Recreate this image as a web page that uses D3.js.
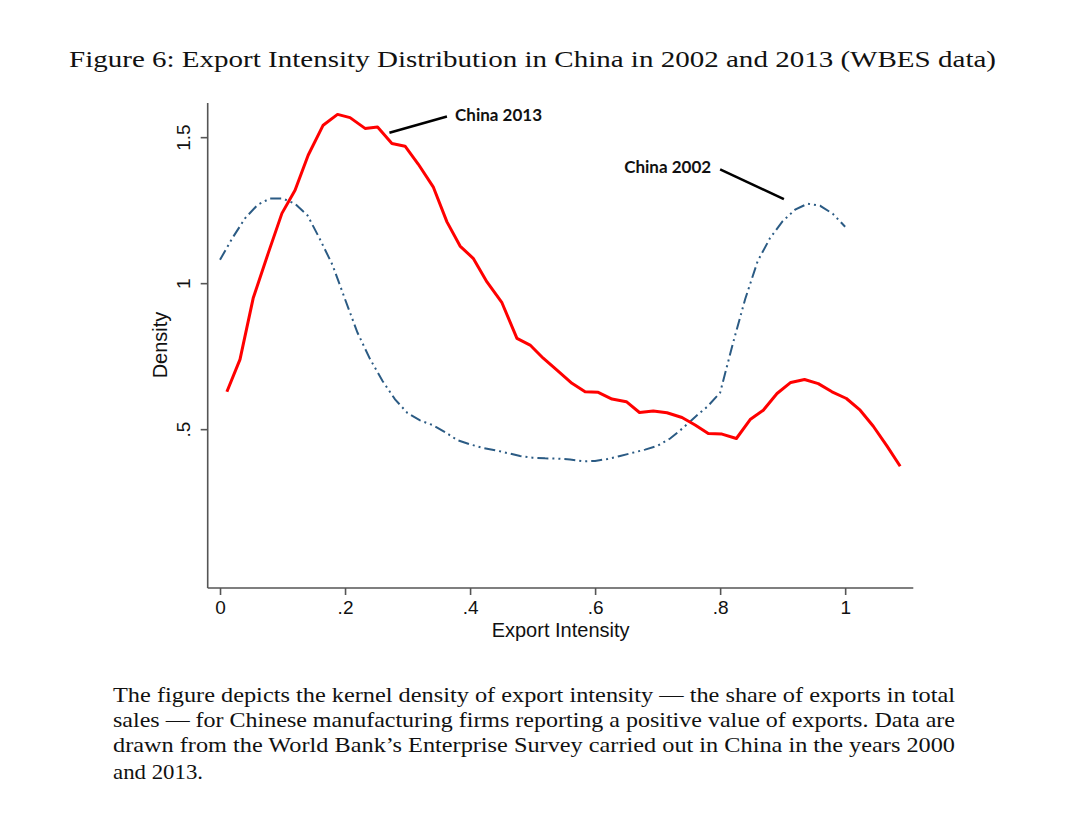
<!DOCTYPE html>
<html>
<head>
<meta charset="utf-8">
<script src="https://cdn.jsdelivr.net/npm/d3@7"></script>
<style>
  html, body { margin: 0; padding: 0; background: #ffffff; }
  svg { display: block; }
</style>
</head>
<body>
<svg id="chart" width="1080" height="819"></svg>
<script>
// ---------------- DATA ----------------
const titleText = "Figure 6: Export Intensity Distribution in China in 2002 and 2013 (WBES data)";
const captionLines = [
  "The figure depicts the kernel density of export intensity \u2014 the share of exports in total",
  "sales \u2014 for Chinese manufacturing firms reporting a positive value of exports. Data are",
  "drawn from the World Bank\u2019s Enterprise Survey carried out in China in the years 2000",
  "and 2013."
];
const xTicks = [0, 0.2, 0.4, 0.6, 0.8, 1];
const yTicks = [0.5, 1, 1.5];
const xLabel = "Export Intensity";
const yLabel = "Density";

// China 2013 (solid red)
const x2013 = [0.011, 0.032, 0.053, 0.077, 0.099, 0.120, 0.141, 0.165, 0.188, 0.208,
               0.232, 0.252, 0.275, 0.296, 0.317, 0.341, 0.363, 0.384, 0.405, 0.427,
               0.451, 0.475, 0.496, 0.517, 0.539, 0.563, 0.584, 0.605, 0.627, 0.650,
               0.671, 0.693, 0.715, 0.739, 0.760, 0.781, 0.803, 0.826, 0.848, 0.869,
               0.891, 0.913, 0.935, 0.957, 0.979, 1.002, 1.024, 1.045, 1.067, 1.088];
const d2013 = [0.628, 0.739, 0.948, 1.102, 1.239, 1.318, 1.438, 1.541, 1.578, 1.567,
               1.530, 1.535, 1.478, 1.469, 1.408, 1.330, 1.210, 1.127, 1.085, 1.004,
               0.933, 0.811, 0.788, 0.743, 0.702, 0.657, 0.628, 0.626, 0.603, 0.594,
               0.557, 0.562, 0.556, 0.540, 0.514, 0.485, 0.483, 0.468, 0.533, 0.565,
               0.622, 0.660, 0.670, 0.656, 0.628, 0.605, 0.565, 0.510, 0.442, 0.373];

// China 2002 (dash-dot navy)
const x2002 = [0.00, 0.02, 0.04, 0.06, 0.08, 0.10, 0.12, 0.14, 0.16, 0.18,
               0.20, 0.22, 0.24, 0.26, 0.28, 0.30, 0.32, 0.34, 0.36, 0.38,
               0.40, 0.42, 0.44, 0.46, 0.48, 0.50, 0.52, 0.54, 0.56, 0.58,
               0.60, 0.62, 0.64, 0.66, 0.68, 0.70, 0.72, 0.74, 0.76, 0.78,
               0.80, 0.82, 0.84, 0.86, 0.88, 0.90, 0.92, 0.94, 0.96, 0.98, 1.00];
const d2002 = [1.080, 1.155, 1.222, 1.268, 1.290, 1.290, 1.272, 1.232, 1.150, 1.062,
               0.945, 0.830, 0.740, 0.665, 0.602, 0.555, 0.530, 0.514, 0.490, 0.462,
               0.448, 0.436, 0.428, 0.418, 0.408, 0.402, 0.400, 0.399, 0.396, 0.390,
               0.391, 0.398, 0.408, 0.419, 0.430, 0.443, 0.468, 0.503, 0.542, 0.578,
               0.625, 0.790, 0.945, 1.075, 1.155, 1.212, 1.252, 1.272, 1.265, 1.238, 1.193];

// ---------------- LAYOUT ----------------
const svg = d3.select("#chart");
const plot = { left: 207.7, right: 913.3, top: 103, bottom: 588 };

const x = d3.scaleLinear().domain([-0.0197, 1.109]).range([plot.left, plot.right]);
const y = d3.scaleLinear().domain([-0.044, 1.617]).range([plot.bottom, plot.top]);

const fmt = d => d === 0 ? "0" : String(+d.toFixed(2)).replace(/^0\./, ".");

// Title
svg.append("text")
  .attr("x", 69).attr("y", 67)
  .attr("font-family", "'Liberation Serif', 'DejaVu Serif', serif")
  .attr("font-size", 24)
  .attr("fill", "#111")
  .attr("textLength", 927)
  .attr("lengthAdjust", "spacingAndGlyphs")
  .text(titleText);

// Axes
const axisColor = "#555";
const xAxis = svg.append("g")
  .attr("transform", `translate(0,${plot.bottom})`)
  .call(d3.axisBottom(x).tickValues(xTicks).tickFormat(fmt).tickSize(7).tickSizeOuter(0).tickPadding(6));
const yAxis = svg.append("g")
  .attr("transform", `translate(${plot.left},0)`)
  .call(d3.axisLeft(y).tickValues(yTicks).tickFormat(fmt).tickSize(7).tickSizeOuter(0).tickPadding(10));

[xAxis, yAxis].forEach(g => {
  g.select(".domain").attr("stroke", axisColor).attr("stroke-width", 1.6);
  g.selectAll(".tick line").attr("stroke", axisColor).attr("stroke-width", 1.6);
  g.selectAll(".tick text")
    .attr("font-family", "'Liberation Sans', Arial, sans-serif")
    .attr("font-size", 19)
    .attr("fill", "#111");
});
xAxis.select(".domain").attr("d", `M${plot.left},0H${plot.right}`);
yAxis.select(".domain").attr("d", `M0,${plot.top}V${plot.bottom}`);

yAxis.selectAll(".tick text")
  .attr("transform", "rotate(-90)")
  .attr("x", 0).attr("y", -17.5)
  .attr("dy", 0)
  .attr("text-anchor", "middle");

// Axis titles
svg.append("text")
  .attr("x", (x(0) + x(1)) / 2 + 28).attr("y", 637)
  .attr("text-anchor", "middle")
  .attr("font-family", "'Liberation Sans', Arial, sans-serif")
  .attr("font-size", 20)
  .attr("fill", "#111")
  .text(xLabel);

svg.append("text")
  .attr("transform", `translate(167,${345}) rotate(-90)`)
  .attr("text-anchor", "middle")
  .attr("font-family", "'Liberation Sans', Arial, sans-serif")
  .attr("font-size", 20)
  .attr("fill", "#111")
  .text(yLabel);

// Lines
const line = d3.line().x(d => x(d[0])).y(d => y(d[1]));

svg.append("path")
  .datum(x2002.map((v, i) => [v, d2002[i]]))
  .attr("d", line)
  .attr("fill", "none")
  .attr("stroke", "#2b5b84")
  .attr("stroke-width", 2)
  .attr("stroke-dasharray", "11,4,2,4,2,4");

svg.append("path")
  .datum(x2013.map((v, i) => [v, d2013[i]]))
  .attr("d", line)
  .attr("fill", "none")
  .attr("stroke", "#ff0000")
  .attr("stroke-width", 3)
  .attr("stroke-linejoin", "round");

// Annotations
const annFont = "Lato, 'Open Sans', sans-serif";
svg.append("line")
  .attr("x1", x(0.271)).attr("y1", y(1.515))
  .attr("x2", x(0.363)).attr("y2", y(1.571))
  .attr("stroke", "#000").attr("stroke-width", 2.5);
svg.append("text")
  .attr("x", x(0.376)).attr("y", y(1.556))
  .attr("font-family", annFont).attr("font-weight", "bold")
  .attr("font-size", 17).attr("fill", "#111")
  .text("China 2013");

svg.append("line")
  .attr("x1", x(0.80)).attr("y1", y(1.390))
  .attr("x2", x(0.902)).attr("y2", y(1.288))
  .attr("stroke", "#000").attr("stroke-width", 2.5);
svg.append("text")
  .attr("x", x(0.7856)).attr("y", y(1.3757))
  .attr("text-anchor", "end")
  .attr("font-family", annFont).attr("font-weight", "bold")
  .attr("font-size", 17).attr("fill", "#111")
  .text("China 2002");

// Caption
const capBase = [702, 727, 752, 779];
const capWidths = [842, 842, 842, 90];
captionLines.forEach((t, i) => {
  svg.append("text")
    .attr("x", 113).attr("y", capBase[i])
    .attr("font-family", "'Liberation Serif', 'DejaVu Serif', serif")
    .attr("font-size", 21)
    .attr("fill", "#111")
    .attr("textLength", capWidths[i])
    .attr("lengthAdjust", "spacingAndGlyphs")
    .text(t);
});
</script>
</body>
</html>
